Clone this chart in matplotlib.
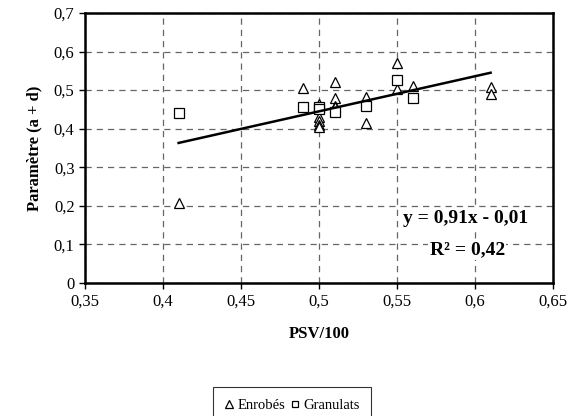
import numpy as np
import matplotlib.pyplot as plt

plt.rcParams['font.family'] = ['Liberation Serif', 'DejaVu Serif']

# Enrobés (triangles)
enrobes_x = [0.41, 0.49, 0.50, 0.50, 0.50, 0.50, 0.50, 0.50, 0.51, 0.51, 0.51, 0.51,
             0.53, 0.53, 0.55, 0.55, 0.56, 0.61, 0.61]
enrobes_y = [0.208, 0.505, 0.465, 0.455, 0.43, 0.42, 0.41, 0.405, 0.52, 0.48, 0.46, 0.457,
             0.483, 0.414, 0.57, 0.502, 0.51, 0.507, 0.49]

# Granulats (squares)
granulats_x = [0.41, 0.49, 0.50, 0.50, 0.51, 0.53, 0.55, 0.56]
granulats_y = [0.44, 0.457, 0.457, 0.45, 0.444, 0.459, 0.526, 0.48]

slope = 0.91
intercept = -0.01
fit_x = [0.41, 0.61]

xticks = [0.35, 0.4, 0.45, 0.5, 0.55, 0.6, 0.65]
yticks = [0, 0.1, 0.2, 0.3, 0.4, 0.5, 0.6, 0.7]


def comma(v):
    s = ('%.2f' % v).rstrip('0').rstrip('.')
    return s.replace('.', ',')


fig = plt.figure(figsize=(5.72, 4.16), dpi=100)
ax = fig.add_axes([0.1486, 0.3197, 0.8182, 0.6491])

ax.plot(enrobes_x, enrobes_y, linestyle='none', marker='^', markersize=7.5,
        markerfacecolor='white', markeredgecolor='black', markeredgewidth=0.9,
        label='Enrobés', zorder=3)
ax.plot(granulats_x, granulats_y, linestyle='none', marker='s', markersize=7,
        markerfacecolor='white', markeredgecolor='black', markeredgewidth=0.9,
        label='Granulats', zorder=3)

fx = np.array(fit_x)
ax.plot(fx, slope * fx + intercept, color='black', linewidth=1.8, zorder=4)

ax.set_xlim(0.35, 0.65)
ax.set_ylim(0, 0.7)
ax.set_xticks(xticks)
ax.set_yticks(yticks)
ax.set_xticklabels([comma(v) for v in xticks], fontsize=12)
ax.set_yticklabels([comma(v) for v in yticks], fontsize=12)
ax.tick_params(direction='out', length=4, width=1, color='black')
ax.grid(True, color='#666666', linestyle=(0, (5, 4)), linewidth=0.9)
ax.set_axisbelow(True)
for sp in ax.spines.values():
    sp.set_linewidth(1.8)
    sp.set_color('black')

ax.set_xlabel('PSV/100', fontsize=12, fontweight='bold', labelpad=12)
ax.set_ylabel('Paramètre (a + d)', fontsize=12, fontweight='bold', labelpad=8)

ax.text(0.594, 0.167, 'y = 0,91x - 0,01', fontsize=14, fontweight='bold',
        ha='center', va='center',
        bbox=dict(facecolor='white', edgecolor='none', pad=1))
ax.text(0.595, 0.085, 'R² = 0,42', fontsize=14, fontweight='bold',
        ha='center', va='center',
        bbox=dict(facecolor='white', edgecolor='none', pad=1))

leg = fig.legend(loc='lower center', bbox_to_anchor=(0.511, -0.018), ncol=2,
                 fontsize=10.5, frameon=True, fancybox=False, handlelength=0.6,
                 handletextpad=0.3, columnspacing=0.3, borderpad=0.8,
                 borderaxespad=0.0, markerscale=0.7)
leg.get_frame().set_edgecolor('black')
leg.get_frame().set_linewidth(0.8)

fig.savefig('out.png', dpi=100)
